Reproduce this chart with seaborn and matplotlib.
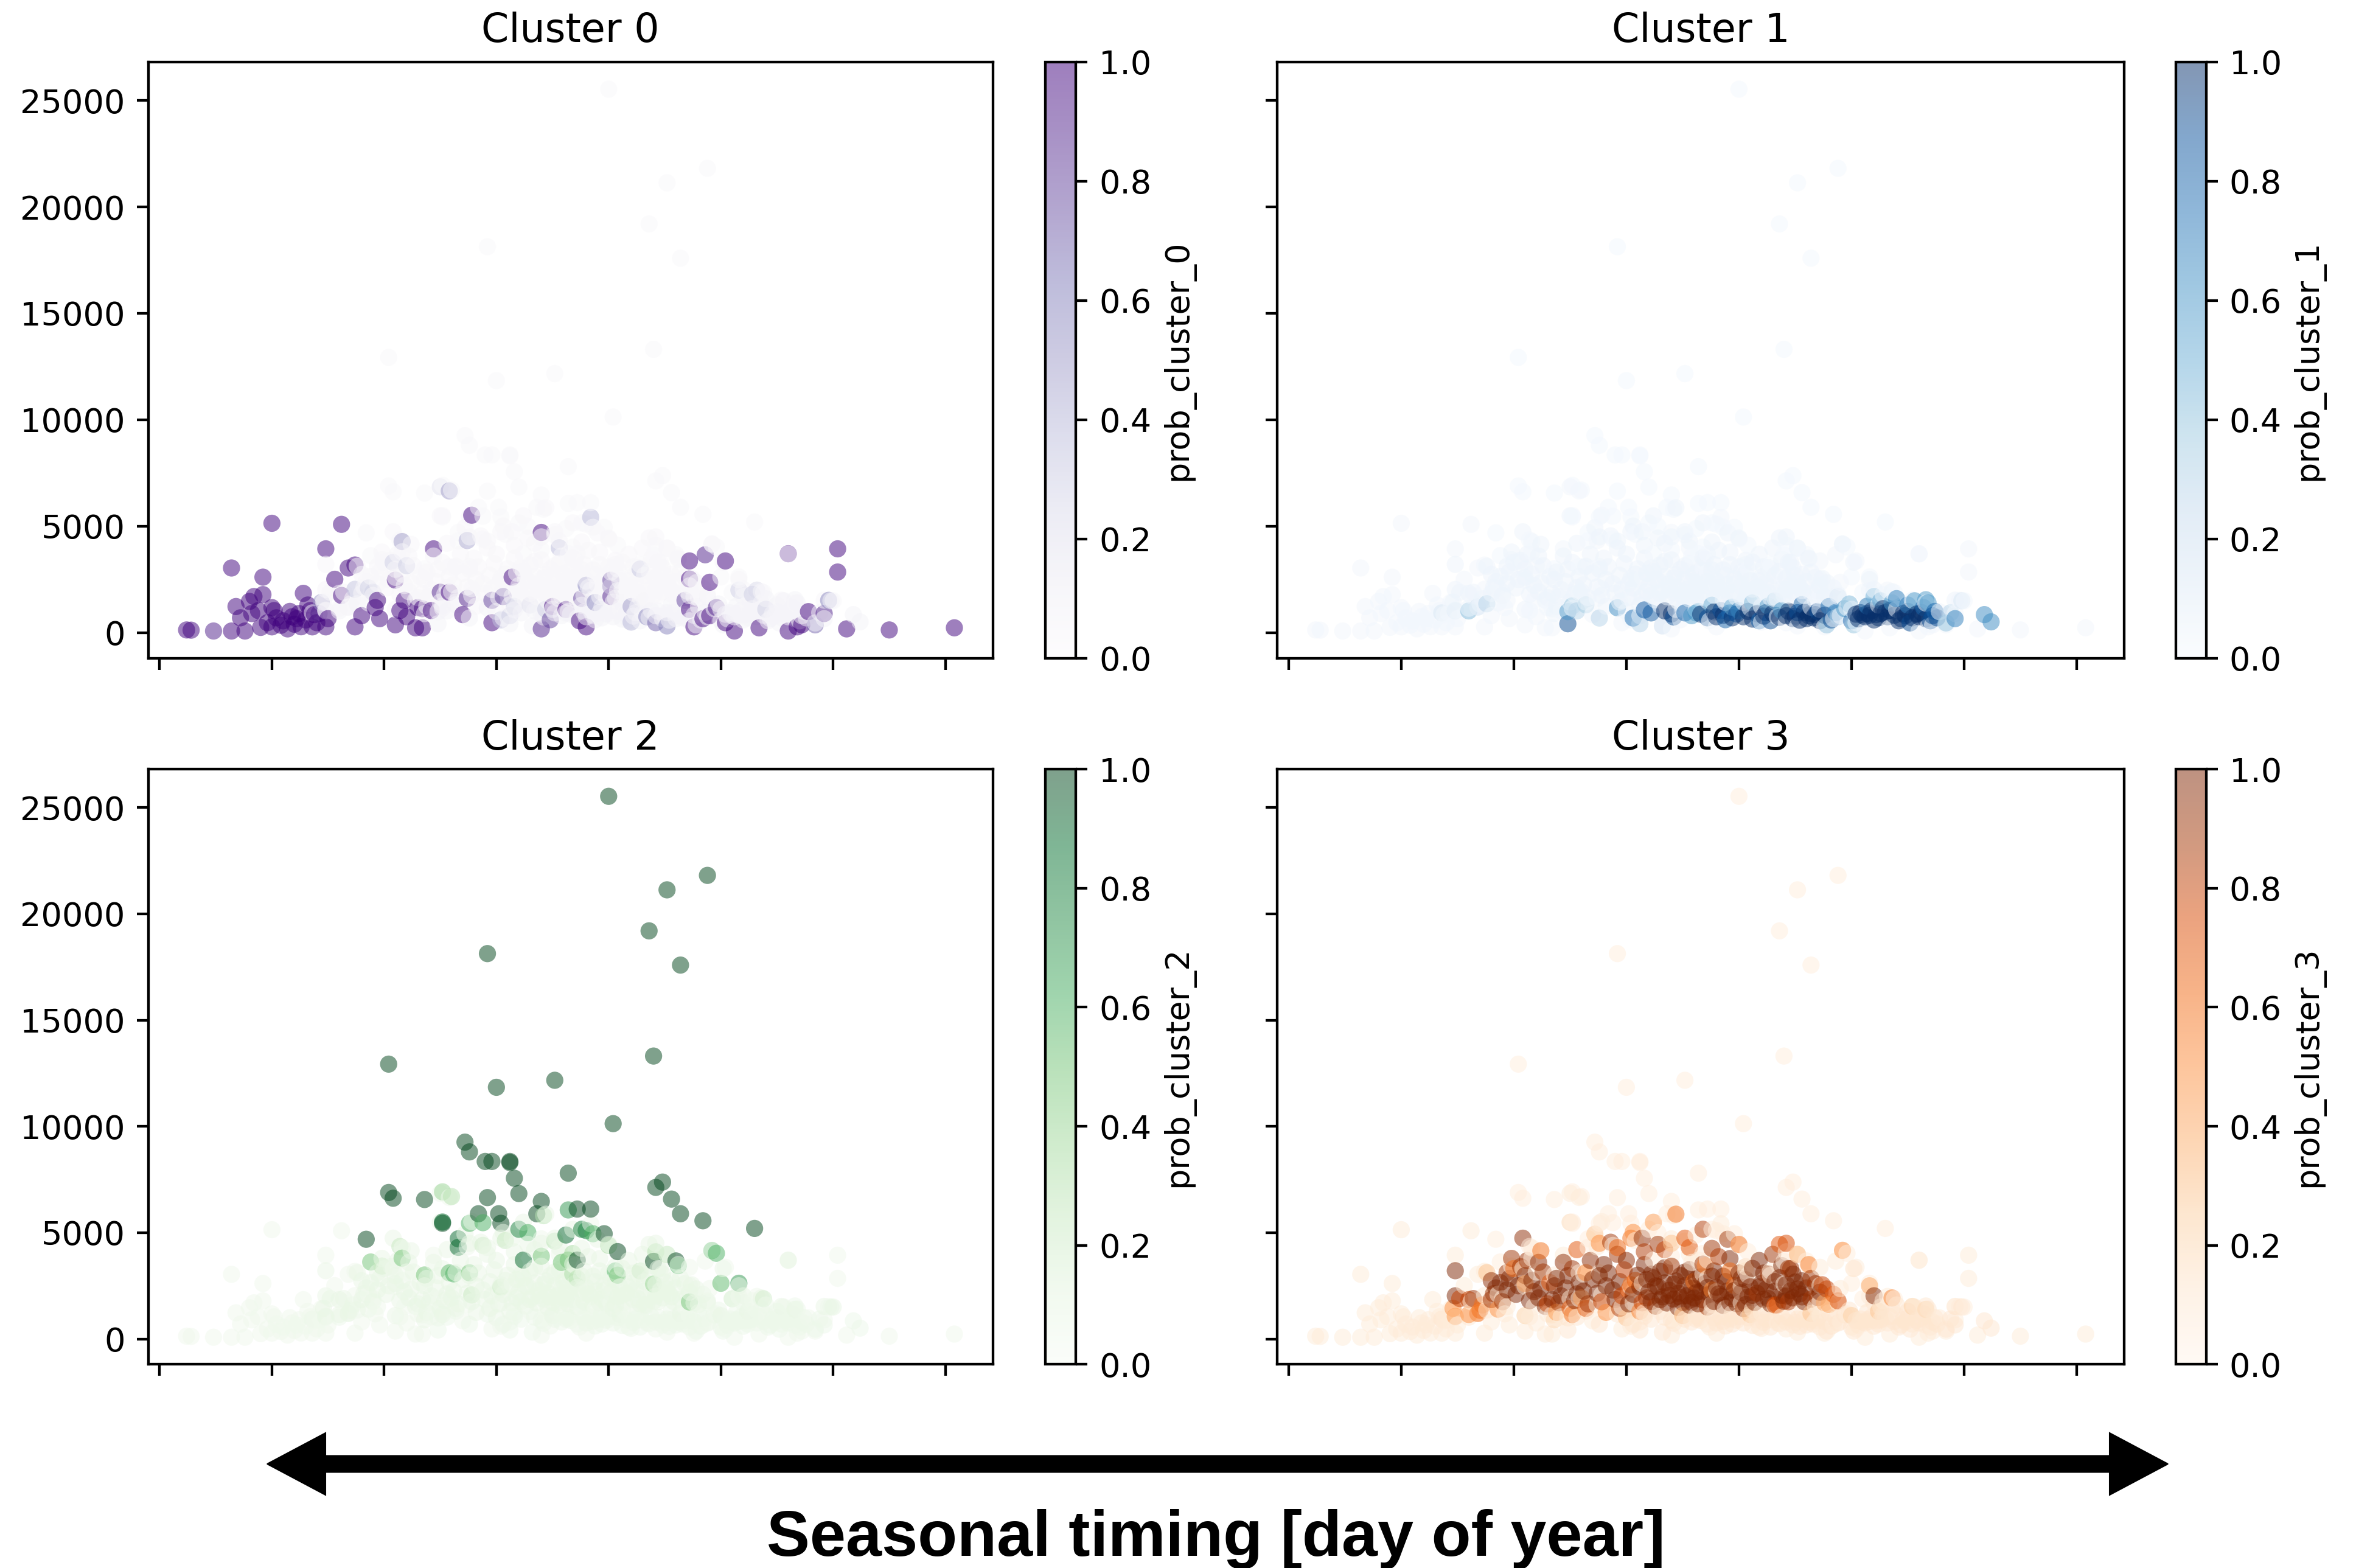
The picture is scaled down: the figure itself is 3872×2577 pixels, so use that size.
import numpy as np
import pandas as pd
import matplotlib
matplotlib.use("Agg")
import matplotlib.pyplot as plt
import seaborn as sns
from matplotlib.patches import Polygon
from matplotlib.colors import Normalize
from matplotlib.cm import ScalarMappable

# ---------------- data: (day of year, value, probability of own cluster) ----------------
CLUSTER_0 = [
    (12, 130, 1.0), (14, 120, 1.0), (24, 80, 0.9), (32, 80, 1.0), (32, 3040, 1.0), (34, 1230, 1.0),
    (36, 700, 1.0), (38, 80, 1.0), (40, 1470, 1.0), (42, 1700, 1.0), (44, 1040, 1.0), (46, 2610, 1.0),
    (46, 1790, 1.0), (48, 470, 1.0), (50, 275, 1.0), (50, 5140, 1.0), (50, 1180, 1.0), (51, 1040, 1.0),
    (55, 560, 1.0), (57, 180, 1.0), (59, 750, 1.0), (61, 660, 1.0), (62, 900, 1.0), (64, 1850, 1.0),
    (67, 1040, 1.0), (68, 275, 1.0), (69, 850, 1.0), (70, 470, 1.0), (72, 1420, 0.5), (74, 3940, 1.0),
    (74, 275, 1.0), (75, 660, 1.0), (78, 2510, 1.0), (81, 5090, 1.0), (81, 1750, 1.0), (84, 3040, 1.0),
    (87, 3180, 1.0), (87, 275, 1.0), (90, 800, 1.0), (97, 1520, 1.0), (96, 1180, 1.0), (98, 660, 1.0),
    (105, 2470, 1.0), (105, 370, 1.0), (107, 1040, 1.0), (109, 1520, 1.0), (110, 750, 1.0), (114, 230, 1.0),
    (117, 230, 1.0), (115, 1180, 1.0), (117, 1130, 1.0), (121, 1040, 1.0), (122, 3940, 1.0), (125, 1900, 0.9),
    (129, 1900, 1.0), (135, 850, 1.0), (137, 1610, 0.9), (139, 5520, 1.0), (148, 470, 1.0), (148, 1520, 0.8),
    (153, 1700, 0.8), (157, 2610, 1.0), (170, 4710, 1.0), (170, 180, 0.9), (175, 1230, 1.0), (181, 1090, 1.0),
    (174, 610, 0.8), (188, 1610, 0.8), (190, 275, 1.0), (187, 560, 1.0), (190, 2230, 0.6), (194, 1420, 0.6),
    (201, 2470, 0.8), (201, 2180, 0.8), (201, 1700, 0.9), (210, 1230, 0.5), (214, 2990, 0.35), (210, 500, 0.4),
    (217, 750, 0.6), (221, 470, 0.7), (226, 320, 0.6), (234, 1520, 0.8), (236, 3370, 1.0), (236, 2520, 1.0),
    (236, 1090, 1.0), (238, 275, 1.0), (242, 660, 1.0), (243, 3660, 0.9), (245, 2370, 1.0), (245, 800, 1.0),
    (248, 1180, 0.9), (252, 3370, 1.0), (252, 470, 1.0), (256, 80, 1.0), (267, 230, 1.0), (280, 3710, 1.0),
    (280, 80, 1.0), (284, 275, 1.0), (286, 370, 1.0), (289, 990, 1.0), (292, 370, 0.7), (296, 900, 0.9),
    (298, 1520, 0.6), (302, 3940, 1.0), (302, 2850, 1.0), (306, 180, 1.0), (325, 130, 1.0), (354, 230, 1.0),
    (129, 6660, 0.5), (125, 6850, 0.2), (108, 4280, 0.5), (137, 4330, 0.45), (178, 3990, 0.4), (104, 3300, 0.3),
    (110, 3150, 0.3), (87, 2040, 0.35), (93, 2100, 0.3), (95, 1900, 0.3), (192, 5420, 0.4), (152, 600, 0.35),
    (156, 800, 0.3), (158, 1240, 0.3), (172, 1100, 0.3), (165, 1300, 0.2), (258, 2000, 0.3), (266, 2000, 0.25),
    (264, 1800, 0.3), (270, 1100, 0.3),
    (52, 700, 1.0), (54, 350, 1.0), (58, 1000, 1.0), (60, 400, 1.0), (63, 280, 1.0), (65, 600, 1.0),
    (66, 1300, 1.0), (71, 900, 0.9), (45, 250, 1.0), (41, 900, 1.0),
]

CLUSTER_1 = [
    (68, 930, 0.15), (74, 1025, 0.12), (80, 1025, 0.45), (84, 1210, 0.25), (88, 1360, 0.3), (124, 420, 0.9),
    (124, 990, 0.6), (126, 1260, 0.4), (128, 1025, 0.3), (132, 1310, 0.35), (138, 690, 0.3), (146, 1170, 0.65),
    (153, 690, 0.75), (156, 420, 0.3), (158, 1070, 0.85), (161, 930, 0.85), (166, 320, 0.2), (167, 1025, 1.0),
    (170, 880, 1.0), (171, 740, 0.9), (176, 930, 0.8), (179, 800, 0.6), (181, 930, 0.6), (182, 1000, 0.5),
    (188, 1290, 0.5), (190, 750, 1.0), (192, 1040, 0.9), (194, 610, 0.8), (196, 940, 0.8), (200, 1040, 0.7),
    (202, 750, 1.0), (206, 1400, 0.45), (208, 890, 1.0), (209, 560, 0.8), (212, 940, 1.0), (214, 560, 0.9),
    (216, 1500, 0.4), (219, 1040, 0.6), (221, 800, 1.0), (224, 660, 1.0), (226, 940, 0.9), (228, 1320, 0.8),
    (230, 660, 1.0), (231, 800, 1.0), (232, 900, 1.0), (234, 850, 1.0), (236, 560, 1.0), (239, 370, 0.4),
    (240, 1230, 0.75), (244, 750, 0.3), (244, 1700, 0.2), (247, 1130, 0.6), (250, 560, 0.8), (251, 370, 0.4),
    (254, 940, 1.0), (255, 800, 1.0), (256, 750, 1.0), (257, 900, 1.0), (259, 1040, 1.0), (260, 1700, 0.5),
    (261, 850, 1.0), (262, 700, 1.0), (264, 1130, 1.0), (265, 950, 1.0), (266, 750, 1.0), (268, 1400, 0.6),
    (270, 1600, 0.7), (272, 660, 1.0), (273, 900, 1.0), (274, 800, 1.0), (276, 460, 0.9), (278, 1500, 0.6),
    (280, 750, 1.0), (281, 950, 1.0), (282, 1180, 0.8), (284, 1400, 0.6), (285, 560, 0.9), (286, 800, 0.9),
    (292, 460, 0.4), (294, 940, 0.3), (296, 660, 0.7), (299, 1500, 0.15), (309, 850, 0.65), (312, 510, 0.65),
    (183, 870, 1.0), (186, 700, 0.9), (189, 980, 1.0), (193, 820, 1.0), (197, 700, 1.0), (199, 880, 0.9),
    (204, 1000, 1.0), (206, 640, 1.0), (211, 780, 1.0), (215, 900, 1.0), (218, 720, 1.0), (222, 1010, 1.0),
    (225, 780, 1.0), (227, 590, 1.0), (229, 960, 1.0), (233, 700, 1.0), (235, 1000, 0.9), (238, 820, 1.0),
    (241, 600, 0.9), (243, 950, 0.7), (252, 870, 1.0), (253, 650, 1.0), (258, 820, 1.0), (260, 600, 1.0),
    (263, 900, 1.0), (267, 1050, 1.0), (269, 820, 1.0), (271, 560, 1.0), (275, 1000, 1.0), (277, 700, 1.0),
    (279, 880, 1.0), (283, 650, 1.0), (287, 1000, 0.8), (288, 700, 0.9), (197, 1200, 0.5), (213, 1250, 0.6),
    (249, 1350, 0.45), (257, 1250, 0.7), (263, 1500, 0.55), (275, 1300, 0.7), (283, 1550, 0.6),
]

CLUSTER_2 = [
    (146, 18130, 1.0), (102, 12930, 1.0), (150, 11840, 1.0), (176, 12170, 1.0), (136, 9260, 1.0),
    (138, 8800, 1.0), (145, 8350, 1.0), (148, 8350, 1.0), (156, 8350, 1.0), (156, 8300, 1.0), (158, 7560, 1.0),
    (160, 6840, 1.0), (102, 6890, 1.0), (104, 6620, 1.0), (118, 6560, 1.0), (146, 6650, 1.0), (170, 6470, 1.0),
    (182, 7800, 1.0), (92, 4690, 1.0), (126, 5440, 1.0), (126, 5500, 0.9), (142, 5890, 1.0), (138, 5440, 0.6),
    (144, 5470, 0.6), (151, 5890, 1.0), (152, 5440, 1.0), (168, 5890, 1.0), (160, 5160, 0.8), (164, 5000, 0.6),
    (133, 4710, 0.9), (133, 4310, 0.9), (162, 3710, 0.9), (181, 4890, 0.9), (182, 6070, 0.7), (200, 25530, 1.0),
    (244, 21810, 1.0), (226, 21130, 1.0), (218, 19200, 1.0), (232, 17590, 1.0), (220, 13310, 1.0),
    (202, 10130, 1.0), (224, 7380, 1.0), (221, 7130, 1.0), (228, 6580, 1.0), (232, 5890, 1.0), (242, 5560, 1.0),
    (265, 5200, 1.0), (186, 6110, 1.0), (192, 6110, 1.0), (198, 4950, 1.0), (188, 5160, 0.8), (190, 5100, 0.8),
    (193, 4950, 0.6), (204, 4110, 1.0), (186, 3710, 1.0), (220, 3650, 1.0), (230, 3670, 1.0), (231, 3450, 0.6),
    (246, 4160, 0.6), (248, 4030, 0.6), (203, 3200, 0.6), (204, 3000, 0.5), (250, 2620, 0.55), (258, 2620, 0.7),
    (220, 2580, 0.4), (236, 1740, 0.5), (226, 3970, 0.3), (221, 4100, 0.3), (184, 4020, 0.35), (184, 3060, 0.35),
    (186, 2840, 0.3), (200, 4400, 0.35), (214, 3200, 0.2), (269, 1890, 0.2), (255, 1890, 0.2), (280, 3700, 0.1),
    (300, 1500, 0.1), (94, 3620, 0.5), (108, 3800, 0.5), (118, 3010, 0.5), (126, 6920, 0.4), (130, 6700, 0.3),
    (131, 3060, 0.6), (129, 3110, 0.55), (138, 3110, 0.5), (170, 3890, 0.5), (182, 3710, 0.5), (179, 3600, 0.5),
    (99, 3430, 0.25), (107, 4350, 0.25), (152, 2440, 0.25), (139, 2070, 0.25), (154, 4630, 0.25),
    (171, 5800, 0.3), (176, 4600, 0.3), (144, 4400, 0.2),
]

CLUSTER_3 = [
    (74, 3210, 1.0), (104, 4740, 0.95), (74, 2030, 1.0), (76, 1900, 0.8), (80, 1850, 0.8), (82, 1900, 0.9),
    (73, 1440, 0.5), (74, 1060, 0.45), (80, 1150, 0.5), (84, 1200, 0.6), (85, 1350, 0.6), (88, 3120, 0.3),
    (90, 1850, 0.9), (91, 2130, 0.9), (90, 2740, 0.95), (94, 2650, 1.0), (97, 3120, 0.9), (99, 3790, 0.9),
    (100, 3310, 0.6), (97, 2310, 1.0), (102, 2500, 1.0), (105, 2980, 1.0), (105, 2600, 0.4), (106, 3690, 0.9),
    (111, 3600, 0.95), (109, 2220, 0.95), (111, 1930, 1.0), (114, 1530, 1.0), (116, 2650, 0.7), (117, 1850, 1.0),
    (118, 2500, 1.0), (121, 2030, 1.0), (122, 3600, 0.95), (124, 2980, 1.0), (125, 1440, 0.7), (126, 1150, 0.6),
    (128, 2120, 1.0), (130, 1930, 0.4), (132, 1440, 0.7), (132, 3120, 0.5), (134, 3690, 0.95), (136, 4930, 0.3),
    (125, 5490, 0.2), (138, 2980, 1.0), (140, 3500, 1.0), (141, 2500, 1.0), (143, 4550, 0.9), (146, 3980, 0.9),
    (147, 1440, 0.85), (148, 2030, 0.8), (150, 3690, 0.95), (152, 2550, 0.6), (152, 4740, 0.6), (153, 5010, 0.5),
    (157, 4740, 0.95), (158, 3500, 1.0), (159, 1930, 0.9), (162, 5490, 0.45), (172, 5870, 0.6), (176, 4740, 0.7),
    (164, 4450, 0.9), (167, 4200, 0.8), (151, 2300, 0.7), (154, 2750, 0.65), (170, 4500, 0.3), (178, 4300, 0.7),
    (160, 2210, 1.0), (161, 1760, 1.0), (162, 2870, 1.0), (163, 1540, 0.9), (164, 2460, 1.0), (165, 3180, 1.0),
    (166, 1980, 1.0), (167, 2640, 1.0), (168, 1690, 1.0), (169, 2290, 1.0), (170, 3420, 0.9), (171, 1870, 1.0),
    (172, 2730, 1.0), (173, 1480, 1.0), (173, 2150, 1.0), (174, 2980, 1.0), (175, 1720, 1.0), (176, 2510, 1.0),
    (177, 2040, 1.0), (178, 3260, 1.0), (178, 1590, 1.0), (179, 2380, 1.0), (180, 1930, 1.0), (181, 2810, 1.0),
    (182, 1650, 1.0), (183, 2240, 1.0), (184, 3520, 0.9), (184, 1840, 1.0), (185, 2600, 1.0), (186, 1500, 0.9),
    (187, 2110, 1.0), (188, 2950, 1.0), (189, 1760, 1.0), (190, 2430, 1.0), (191, 3870, 0.85), (192, 2000, 1.0),
    (193, 1580, 1.0), (194, 2700, 1.0), (195, 2260, 1.0), (196, 3780, 1.0), (197, 1890, 1.0), (198, 2520, 0.6),
    (199, 1660, 1.0), (200, 3100, 1.0), (201, 2180, 1.0), (202, 1430, 0.9), (203, 2790, 1.0), (204, 1980, 1.0),
    (205, 2450, 1.0), (206, 3320, 1.0), (207, 1720, 1.0), (208, 2150, 0.9), (209, 3690, 1.0), (210, 2620, 1.0),
    (211, 1860, 1.0), (212, 2330, 1.0), (213, 3060, 0.9), (214, 1650, 1.0), (215, 3980, 0.9), (216, 2240, 1.0),
    (217, 1600, 0.7), (218, 2880, 1.0), (219, 2050, 1.0), (220, 1770, 1.0), (221, 2560, 1.0), (222, 3310, 0.9),
    (223, 2270, 1.0), (224, 1930, 1.0), (225, 2680, 1.0), (226, 3980, 0.35), (227, 2120, 1.0), (228, 2740, 1.0),
    (228, 1980, 1.0), (230, 2400, 1.0), (231, 3500, 0.55), (232, 1870, 0.9), (234, 2600, 0.9), (236, 2200, 1.0),
    (237, 2550, 0.8), (238, 1700, 0.4), (240, 1620, 0.4), (244, 1790, 0.75), (246, 4170, 0.5), (251, 3310, 0.15),
    (258, 2500, 0.4), (260, 2030, 1.0), (268, 1930, 0.55), (277, 1530, 0.25), (283, 1390, 0.2), (296, 1530, 0.15),
    (180, 2700, 0.6), (185, 3450, 0.55), (188, 2300, 0.5), (196, 3200, 0.6), (203, 3400, 0.2), (216, 1600, 0.75),
    (222, 1750, 0.85), (218, 4450, 0.7), (221, 4500, 0.75), (195, 4690, 0.9), (188, 4260, 0.9), (184, 5160, 0.85),
    (200, 4450, 0.6), (223, 3310, 0.9),
    (92, 2400, 1.0), (95, 1750, 0.9), (98, 2850, 1.0), (101, 2100, 1.0), (103, 3400, 0.9), (107, 1800, 1.0),
    (108, 2750, 1.0), (112, 2350, 1.0), (113, 3150, 0.9), (115, 1650, 0.8), (119, 2850, 1.0), (120, 1700, 0.9),
    (123, 2400, 1.0), (126, 3300, 0.9), (127, 1800, 1.0), (129, 2650, 1.0), (131, 2250, 1.0), (133, 1650, 0.9),
    (135, 2800, 1.0), (137, 2150, 1.0), (139, 1750, 0.8), (142, 3100, 1.0), (144, 2300, 1.0), (145, 1850, 1.0),
    (147, 2700, 1.0), (149, 3250, 0.8), (151, 1650, 1.0), (153, 2100, 1.0), (155, 3000, 1.0), (156, 2450, 1.0),
    (157, 1700, 0.8), (158, 4100, 0.85), (159, 2800, 1.0), (86, 1600, 0.6), (93, 1400, 0.5), (119, 1250, 0.45),
    (141, 1250, 0.5), (156, 1300, 0.55), (112, 4150, 0.6), (128, 4200, 0.7), (138, 4500, 0.5), (146, 4300, 0.65),
    (161, 3050, 1.0), (163, 2500, 1.0), (165, 1850, 1.0), (167, 3350, 1.0), (169, 2050, 1.0), (171, 2580, 1.0),
    (174, 1950, 1.0), (176, 3150, 1.0), (179, 1720, 1.0), (181, 2180, 1.0), (183, 2920, 1.0), (186, 2420, 1.0),
    (189, 3200, 1.0), (191, 2120, 1.0), (193, 2950, 1.0), (196, 1700, 1.0), (198, 2280, 1.0), (201, 2850, 1.0),
    (203, 1620, 1.0), (206, 2050, 1.0), (209, 2450, 1.0), (211, 3100, 1.0), (213, 1900, 1.0), (216, 2700, 1.0),
    (219, 3450, 1.0), (221, 2020, 1.0), (224, 3050, 1.0), (226, 2350, 1.0), (229, 1750, 1.0), (232, 2850, 0.9),
    (235, 1950, 0.9), (239, 2350, 0.8), (242, 2100, 0.7),
    (105, 1100, 0.25), (118, 900, 0.2), (150, 1000, 0.3), (175, 1100, 0.35), (205, 1150, 0.3), (232, 1200, 0.3),
    (250, 1100, 0.25), (262, 1300, 0.3),
]

# probability of the *other* clusters for the points of each cluster (p0, p1, p2, p3)
OTHER_PROBS = {
    0: (None, 0.03, 0.05, 0.08),
    1: (0.07, None, 0.07, 0.12),
    2: (0.03, 0.02, None, 0.06),
    3: (0.04, 0.05, 0.09, None),
}
GROUPS = [CLUSTER_0, CLUSTER_1, CLUSTER_2, CLUSTER_3]
TITLES = ["Cluster 0", "Cluster 1", "Cluster 2", "Cluster 3"]
CMAPS = ["Purples", "Blues", "Greens", "Oranges"]

rows = []
for g, pts in enumerate(GROUPS):
    for d, v, p in pts:
        probs = list(OTHER_PROBS[g])
        probs[g] = p
        rows.append([d, v] + probs)
df = pd.DataFrame(rows, columns=["doy", "value"] + [f"prob_cluster_{k}" for k in range(4)])
df = df.sort_values("doy", kind="stable").reset_index(drop=True)

# ---------------- style ----------------
sc = 1.3
plt.rcParams.update({
    "font.family": ["DejaVu Sans"],
    "font.size": 10 * sc,
    "axes.titlesize": 12 * sc,
    "xtick.labelsize": 10 * sc,
    "ytick.labelsize": 10 * sc,
    "axes.linewidth": 0.8 * sc,
    "xtick.major.width": 0.8 * sc,
    "ytick.major.width": 0.8 * sc,
    "xtick.major.size": 3.5 * sc,
    "ytick.major.size": 3.5 * sc,
    "xtick.major.pad": 3.5 * sc,
    "ytick.major.pad": 3.5 * sc,
    "axes.titlepad": 6 * sc,
})

W, H = 3872, 2577
fig = plt.figure(figsize=(W / 300, H / 300), dpi=300)

col_left = [0.06291, 0.54210]
col_w = [0.35847, 0.35950]
cb_left = [0.44370, 0.92347]
cb_w = 0.01291
row_bottom = [0.58029, 0.12992]
row_h = [0.38013, 0.37947]

axes = []
for k in range(4):
    r, c = divmod(k, 2)
    rect = [col_left[c], row_bottom[r], col_w[c], row_h[r]]
    if k == 0:
        ax = fig.add_axes(rect)
    else:
        ax = fig.add_axes(rect, sharex=axes[0], sharey=axes[0])
    axes.append(ax)
    sns.scatterplot(data=df, x="doy", y="value", hue=f"prob_cluster_{k}", palette=CMAPS[k],
                    hue_norm=(0, 1), alpha=0.5, s=46, linewidth=0, legend=False, ax=ax)
    ax.set_xlabel("")
    ax.set_ylabel("")
    ax.set_title(TITLES[k])
    ax.tick_params(labelbottom=False)
    if c == 1:
        ax.tick_params(labelleft=False)
    cax = fig.add_axes([cb_left[c], row_bottom[r], cb_w, row_h[r]])
    sm = ScalarMappable(norm=Normalize(0, 1), cmap=CMAPS[k])
    cb = fig.colorbar(sm, cax=cax, alpha=0.5)
    cb.set_label(f"prob_cluster_{k}", fontsize=10 * sc)
    cb.outline.set_linewidth(0.8 * sc)

axes[0].set_yticks([0, 5000, 10000, 15000, 20000, 25000])

# ---------------- double-headed arrow & label ----------------
def fx(px):
    return px / W

def fy(py):
    return 1 - py / H

tipL, tipR, yc = 439, 3563, 2406
hl, hw, sw = 96, 51, 13.5
arrow_pts = [
    (fx(tipL), fy(yc)),
    (fx(tipL + hl), fy(yc - hw)),
    (fx(tipL + hl), fy(yc - sw)),
    (fx(tipR - hl), fy(yc - sw)),
    (fx(tipR - hl), fy(yc - hw)),
    (fx(tipR), fy(yc)),
    (fx(tipR - hl), fy(yc + hw)),
    (fx(tipR - hl), fy(yc + sw)),
    (fx(tipL + hl), fy(yc + sw)),
    (fx(tipL + hl), fy(yc + hw)),
]
fig.patches.append(Polygon(arrow_pts, closed=True, transform=fig.transFigure,
                           facecolor="black", edgecolor="black", linewidth=0.5))

fig.text(0.5162, fy(2557), "Seasonal timing [day of year]", ha="center", va="baseline",
         fontsize=25.5, fontweight="bold", family=["Liberation Sans", "DejaVu Sans"])

fig.savefig("out.png", dpi=300)
